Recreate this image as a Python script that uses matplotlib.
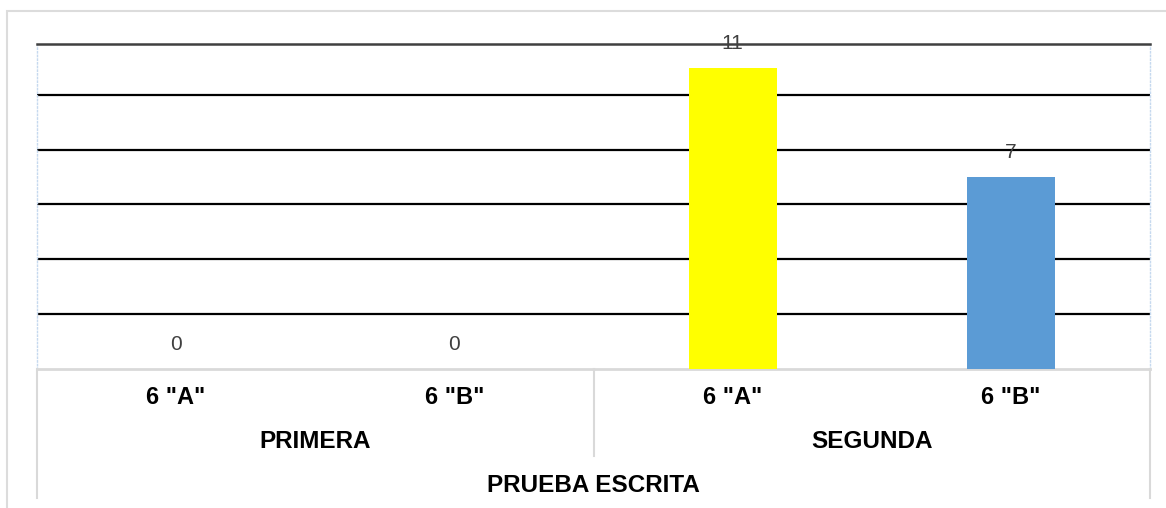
import matplotlib.pyplot as plt
from matplotlib.transforms import blended_transform_factory
from matplotlib.patches import Rectangle
from matplotlib.lines import Line2D

# data
grupos = ["PRIMERA", "SEGUNDA"]
cursos = ['6 "A"', '6 "B"', '6 "A"', '6 "B"']
valores = [0, 0, 11, 7]
colores = ["#FFFF00", "#5B9BD5", "#FFFF00", "#5B9BD5"]
titulo_eje = "PRUEBA ESCRITA"

W, H = 1166, 508
FONT = ["Liberation Sans", "DejaVu Sans"]
LIGHT = "#d9d9d9"


def fy(px):
    # pixel row (from top) -> figure fraction
    return (H - px) / H


fig = plt.figure(figsize=(W / 100, H / 100), dpi=100)
fig.patch.set_facecolor("white")

# outer frame
fig.patches.append(Rectangle((7 / W, fy(515)), (1175 - 7) / W, (515 - 11) / H,
                             transform=fig.transFigure, fill=False,
                             edgecolor="#dcdcdc", lw=1.5))

ax = fig.add_axes([37 / W, fy(368.5), (1150 - 37) / W, (368.5 - 43.7) / H])

x = list(range(len(valores)))
bars = ax.bar(x, valores, width=0.317, color=colores, zorder=3)

ax.set_xlim(-0.5, len(valores) - 0.5)
ax.set_ylim(0, 11.87)
ax.set_yticks([2, 4, 6, 8, 10])
ax.yaxis.grid(True, color="black", lw=1.6, zorder=1)
ax.tick_params(left=False, bottom=False, labelleft=False, labelbottom=False)
ax.set_xticks([])

ax.spines["top"].set_color("#404040")
ax.spines["top"].set_linewidth(1.8)
ax.spines["bottom"].set_color(LIGHT)
ax.spines["bottom"].set_linewidth(2)
for s in ("left", "right"):
    ax.spines[s].set_color("#c6d9ef")
    ax.spines[s].set_linestyle(":")
    ax.spines[s].set_linewidth(1)

# value labels
for xi, v in zip(x, valores):
    ax.annotate(str(v), (xi, v), xytext=(0, 10.5), textcoords="offset points",
                ha="center", va="bottom", fontsize=15, color="#404040",
                family=FONT, zorder=4)

# multi-level category axis
tr = blended_transform_factory(ax.transData, fig.transFigure)
for xi, lab in zip(x, cursos):
    ax.text(xi, fy(397.5), lab, transform=tr, ha="center", va="center",
            fontsize=17, fontweight="bold", family=FONT)

n_per = len(cursos) // len(grupos)
for gi, g in enumerate(grupos):
    cx = gi * n_per + (n_per - 1) / 2
    ax.text(cx, fy(441.5), g, transform=tr, ha="center", va="center",
            fontsize=17.5, fontweight="bold", family=FONT)

ax.text((len(cursos) - 1) / 2, fy(485), titulo_eje, transform=tr,
        ha="center", va="center", fontsize=17.5, fontweight="bold", family=FONT)

# separators below the axis
for gi in range(1, len(grupos)):
    sx = gi * n_per - 0.5
    ax.add_line(Line2D([sx, sx], [fy(369), fy(456)], transform=tr,
                       color=LIGHT, lw=1.5, clip_on=False))
for sx in (-0.5, len(cursos) - 0.5):
    ax.add_line(Line2D([sx, sx], [fy(369), fy(498)], transform=tr,
                       color=LIGHT, lw=1.5, clip_on=False))

fig.savefig("out.png", dpi=100, facecolor="white")
